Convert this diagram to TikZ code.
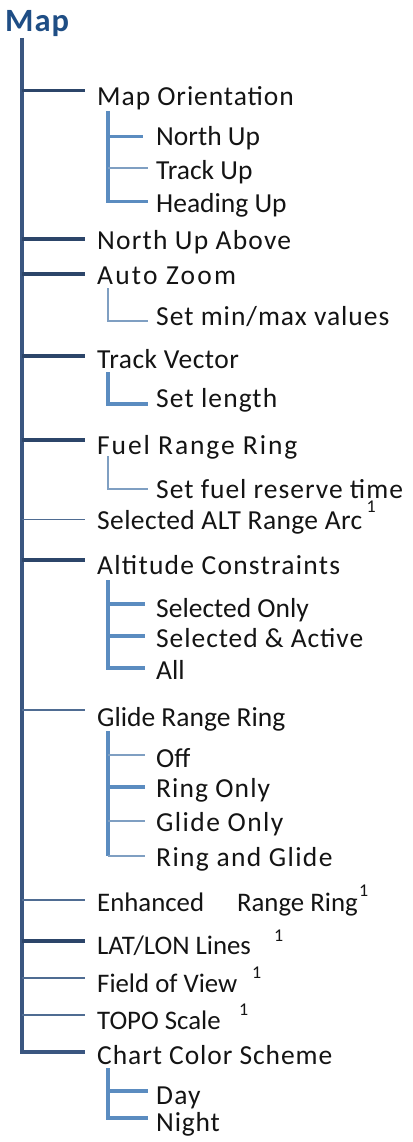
\documentclass[tikz,border=0pt]{standalone}
\usepackage{fontspec}
\setmainfont{Carlito}
\newfontfamily\mapf[LetterSpace=3]{Carlito}
\definecolor{mapblue}{HTML}{1F4E85}
\definecolor{trunkc}{HTML}{3A5680}
\definecolor{brdark}{HTML}{2C4569}
\definecolor{brthin}{HTML}{4F6C92}
\definecolor{subdark}{HTML}{5B8CC0}
\definecolor{sublight}{HTML}{7F9FC2}
\definecolor{txt}{HTML}{141414}
\tikzset{
  lbl/.style={anchor=base west, inner sep=0pt, text=txt, font={\fontsize{27.5}{30}\selectfont\addfontfeature{LetterSpace=#1}}},
  lbl/.default=0,
  plbl/.style={anchor=base west, inner sep=0pt, text=txt, font={\fontsize{26.8}{30}\selectfont}},
  supl/.style={anchor=base west, inner sep=0pt, text=txt, font={\fontsize{18}{20}\selectfont}},
  trunk/.style={draw=trunkc, line width=3.5pt},
  brA/.style={draw=brdark, line width=3.2pt, shorten >=12pt},
  brB/.style={draw=brthin, line width=1.8pt, shorten >=12pt},
  subA/.style={draw=subdark, line width=3.2pt},
  subB/.style={draw=sublight, line width=1.8pt},
}
\begin{document}
\begin{tikzpicture}[x=1pt,y=-1pt]
\fill[white] (0,0) rectangle (412,1142);
\useasboundingbox (0,0) rectangle (412,1142);

% title
\node[anchor=base west, inner sep=0pt, text=mapblue, font={\mapf\bfseries\fontsize{32.5}{34}\selectfont}] (map) at (5,32) {Map};
\coordinate (trunktop) at (22,38);

% level 1 labels
\node[lbl=3.4] (mo)   at (97,106)   {Map Orientation};
\node[lbl=4.4] (nua)  at (97,249.4) {North Up Above};
\node[lbl=8]   (az)   at (97,284.4) {Auto Zoom};
\node[lbl=1.8] (tv)   at (97,368.7) {Track Vector};
\node[lbl=7]   (frr)  at (97,454.4) {Fuel Range Ring};
\node[lbl=1.4] (salt) at (97,529.4) {Selected ALT Range Arc};
\node[lbl=4.6] (ac)   at (97,574.4) {Altitude Constraints};
\node[lbl]     (grr)  at (97,726)   {Glide Range Ring};
\node[plbl] (err) at (97,911.7) {Enhanced\hspace{33pt}Range Ring};
\node[plbl] (lat) at (97,954)   {LAT/LON Lines};
\node[plbl] (fov) at (97,992)   {Field of View};
\node[plbl] (topo) at (97,1029) {TOPO Scale};
\node[lbl=3.4] (ccs)  at (97,1064.4) {Chart Color Scheme};

% superscripts
\path (salt.base east) ++(4,-16.8) node[supl] (s1) {1};
\path (err.base east) ++(1,-15) node[supl] (s2) {1};
\node[supl] (s3) at (274,941.7) {1};
\node[supl] (s4) at (252,978.3) {1};
\node[supl] (s5) at (239,1015)  {1};

% branch points on trunk
\coordinate (mo-b)   at (22,90.7);
\coordinate (nua-b)  at (22,239);
\coordinate (az-b)   at (22,274);
\coordinate (tv-b)   at (22,356);
\coordinate (frr-b)  at (22,440);
\coordinate (salt-b) at (22,519.5);
\coordinate (ac-b)   at (22,560);
\coordinate (grr-b)  at (22,710);
\coordinate (err-b)  at (22,900);
\coordinate (lat-b)  at (22,941);
\coordinate (fov-b)  at (22,978);
\coordinate (topo-b) at (22,1015);
\coordinate (ccs-b)  at (22,1052);

% trunk with final corner
\draw[trunk, shorten >=12pt] (trunktop) |- (ccs-b -| ccs.west);

% level 1 branches
\draw[brA] (mo-b) -- (mo-b -| mo.west);
\draw[brA] (nua-b) -- (nua-b -| nua.west);
\draw[brA] (az-b) -- (az-b -| az.west);
\draw[brA] (tv-b) -- (tv-b -| tv.west);
\draw[brA] (frr-b) -- (frr-b -| frr.west);
\draw[brB] (salt-b) -- (salt-b -| salt.west);
\draw[brA] (ac-b) -- (ac-b -| ac.west);
\draw[brB] (grr-b) -- (grr-b -| grr.west);
\draw[brB] (err-b) -- (err-b -| err.west);
\draw[brA] (lat-b) -- (lat-b -| lat.west);
\draw[brB] (fov-b) -- (fov-b -| fov.west);
\draw[brB] (topo-b) -- (topo-b -| topo.west);

% ---- Map Orientation sub-tree
\node[lbl] (nu) at (156,146)   {North Up};
\node[lbl] (tu) at (156,179.4) {Track Up};
\node[lbl] (hu) at (156,212.7) {Heading Up};
\coordinate (mo-s) at (108,111);
\coordinate (nu-b) at (108,136.7);
\coordinate (tu-b) at (108,168);
\coordinate (hu-b) at (108,201.7);
\draw[subA, shorten >=8pt] (mo-s) |- (hu-b -| hu.west);
\draw[subA, shorten >=13pt] (nu-b) -- (nu-b -| nu.west);
\draw[subB, shorten >=8pt] (tu-b) -- (tu-b -| tu.west);

% ---- Auto Zoom sub-tree
\node[lbl=3.6] (smm) at (156,325) {Set min/max values};
\coordinate (az-s) at (108,288);
\coordinate (smm-b) at (108,321);
\draw[subB, shorten >=8pt] (az-s) |- (smm-b -| smm.west);

% ---- Track Vector sub-tree
\node[lbl=4] (sl) at (156,407.7) {Set length};
\coordinate (tv-s) at (108,372);
\coordinate (sl-b) at (108,404);
\draw[subA, shorten >=8pt] (tv-s) |- (sl-b -| sl.west);

% ---- Fuel Range Ring sub-tree
\node[lbl=3.6] (sfrt) at (156,498.4) {Set fuel reserve time};
\coordinate (frr-s) at (108,456);
\coordinate (sfrt-b) at (108,489);
\draw[subB, shorten >=8pt] (frr-s) |- (sfrt-b -| sfrt.west);

% ---- Altitude Constraints sub-tree
\node[lbl]     (so)  at (156,617.7) {Selected Only};
\node[lbl=3.4] (sa)  at (156,647.7) {Selected \& Active};
\node[lbl]     (all) at (156,679.4) {All};
\coordinate (ac-s) at (108,580);
\coordinate (so-b) at (108,604);
\coordinate (sa-b) at (108,636);
\coordinate (all-b) at (108,668);
\draw[subA, shorten >=11pt] (ac-s) |- (all-b -| all.west);
\draw[subA, shorten >=11pt] (so-b) -- (so-b -| so.west);
\draw[subA, shorten >=11pt] (sa-b) -- (sa-b -| sa.west);

% ---- Glide Range Ring sub-tree
\node[lbl]     (off) at (156,767.7) {Off};
\node[lbl=4]   (ro)  at (156,797.7) {Ring Only};
\node[lbl=5.2] (go)  at (156,831)   {Glide Only};
\node[lbl=5]   (rag) at (156,866)   {Ring and Glide};
\coordinate (grr-s) at (108,731);
\coordinate (off-b) at (108,755);
\coordinate (ro-b) at (108,787);
\coordinate (go-b) at (108,821);
\coordinate (rag-b) at (108,856);
\draw[subA] (grr-s) -- (rag-b);
\draw[subB, shorten >=11pt] (rag-b) -- (rag-b -| rag.west);
\draw[subB, shorten >=11pt] (off-b) -- (off-b -| off.west);
\draw[subA, shorten >=11pt] (ro-b) -- (ro-b -| ro.west);
\draw[subB, shorten >=11pt] (go-b) -- (go-b -| go.west);

% ---- Chart Color Scheme sub-tree
\node[lbl=4.5] (day)   at (156,1104.4) {Day};
\node[lbl=3]   (night) at (156,1131)   {Night};
\coordinate (ccs-s) at (108,1068);
\coordinate (day-b) at (108,1091);
\coordinate (night-b) at (108,1118);
\draw[subA, shorten >=8pt] (ccs-s) |- (night-b -| night.west);
\draw[subA, shorten >=8pt] (day-b) -- (day-b -| day.west);
\end{tikzpicture}
\end{document}
